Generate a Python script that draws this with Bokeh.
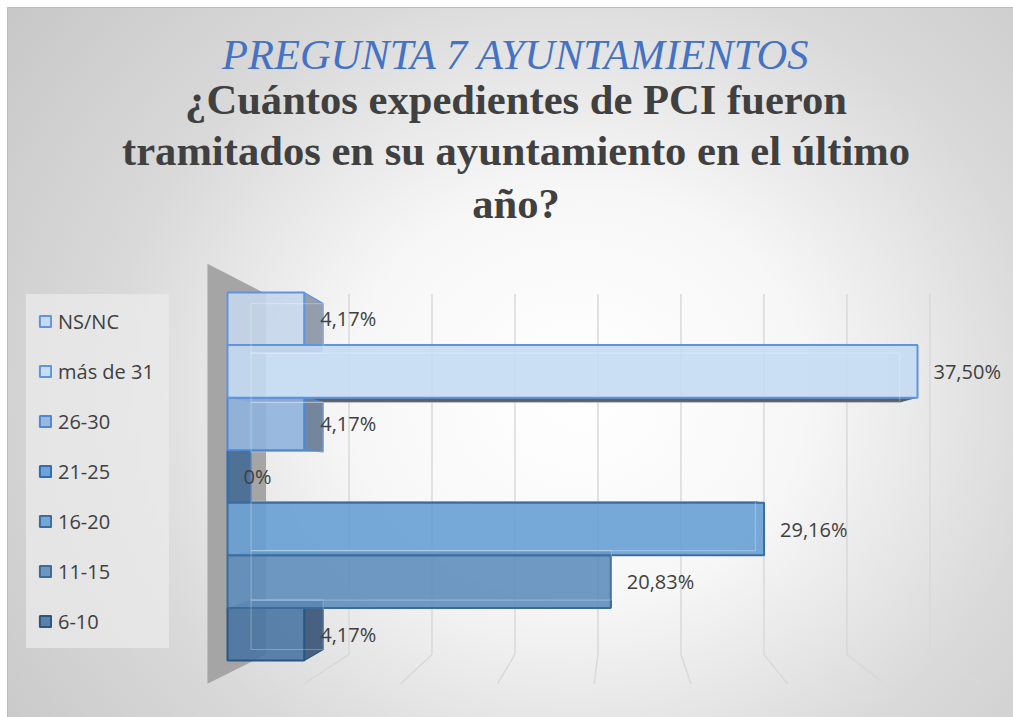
import numpy as np
from bokeh.plotting import figure
from bokeh.models import Range1d, Title, Legend, LegendItem, ColumnDataSource
from bokeh.embed import file_html
from bokeh.resources import INLINE
from bokeh.core.properties import value

# ---------------- data ----------------
categories = ["6-10", "11-15", "16-20", "21-25", "26-30", "más de 31", "NS/NC"]
percentages = [4.17, 20.83, 29.16, 0.0, 4.17, 37.50, 4.17]
labels = ["4,17%", "20,83%", "29,16%", "0%", "4,17%", "37,50%", "4,17%"]
grid_values = [5, 10, 15, 20, 25, 30, 35, 40]

title_text = "PREGUNTA 7 AYUNTAMIENTOS"
subtitle_lines = ["¿Cuántos expedientes de PCI fueron",
                  "tramitados en su ayuntamiento en el último",
                  "año?"]

# ---------------- styles ----------------
front_colors = ["#4a75a2", "#5f8dbb", "#68a0d4", "#5f9bd7", "#8fb2dd", "#c4daf3", "#c6d6eb"]
edge_colors = ["#2c5580", "#3d6a99", "#3d6ca0", "#2f6db3", "#4f88d4", "#5f95dd", "#5f95dd"]
side_colors = ["#3f5a7a", "#4d6f96", "#55799f", "#4b6e95", "#6c7f98", "#5a6068", "#8d98a6"]
cap_colors = ["#3f5a7a", "#4d6f96", "#3d5f85", "#4b6e95", "#6c7f98", "#5a6068", "#8d98a6"]
TEXT = "#404040"

# 3D projection (Excel-like perspective) in data units
VC, YC = 21.36, 2.98            # vanishing centre
S_NEAR, S_FRONT, S_BACK, S_WALL = 1.051, 1.0, 0.94, 0.902
Y_LO, Y_HI = -0.75, 6.85        # category-axis extent


def proj(x, y, s):
    x = np.asarray(x, dtype=float)
    y = np.asarray(y, dtype=float)
    return VC + s * (x - VC), YC + s * (y - YC)


W, H = 1013, 717
TOP = 248
LEFT = 18
X0 = 227 - LEFT   # frame pixel of value 0 on the bar front plane
p = figure(width=W, height=H, output_backend="svg", toolbar_location=None,
           title=None, x_axis_type=None, y_axis_type=None,
           x_range=Range1d(-X0 / 18.4, (W - LEFT - X0) / 18.4),
           y_range=Range1d(-0.5 - (H - TOP - 412) / 52.57, -0.5 + 412 / 52.57),
           min_border_left=LEFT, min_border_right=0, min_border_bottom=0,
           min_border_top=TOP)
p.grid.visible = False
p.outline_line_color = None
p.background_fill_color = None
p.border_fill_color = None
p.styles = {"background":
            "linear-gradient(#ffffff, #ffffff) 0 0 / 100% 7px no-repeat, "
            "linear-gradient(#ffffff, #ffffff) 0 0 / 7px 100% no-repeat, "
            "linear-gradient(#bdbdbd, #bdbdbd) 7px 7px / 100% 1px no-repeat, "
            "linear-gradient(#bdbdbd, #bdbdbd) 7px 7px / 1px 100% no-repeat, "
            "radial-gradient(ellipse 75% 95% at 57% 55%, #ffffff 0%, "
            "#f7f7f7 30%, #d9d9d9 62%, #c4c4c4 100%)"}

# titles (last added is top-most); a tiny spacer keeps them clear of the chart
p.add_layout(Title(text=" ", text_font_size="1px", standoff=17), "above")
for line, so in reversed(list(zip(subtitle_lines, [0, 4, 4]))):
    p.add_layout(Title(text=line, align="center", text_font="Liberation Serif",
                       text_font_size="42.6px", text_font_style="bold",
                       text_color=TEXT, standoff=so), "above")
p.add_layout(Title(text=title_text, align="center", text_font="Liberation Serif",
                   text_font_size="42.5px", text_font_style="italic",
                   text_color="#4472c4", standoff=-8), "above")

v = np.array(percentages)
idx = np.arange(len(categories), dtype=float)
ybot, ytop = idx - 0.5, idx + 0.5
zero = np.zeros_like(v)

# side wall (value = 0 plane)
wx1, wy1 = proj(0, Y_HI, S_NEAR)
wx2, wy2 = proj(0, Y_HI, S_WALL)
wx3, wy3 = proj(0, Y_LO, S_WALL)
wx4, wy4 = proj(0, Y_LO, S_NEAR)
p.patch([wx1, wx2, wx3, wx4], [wy1, wy2, wy3, wy4], fill_color="#a5a5a5",
        line_color=None)

# gridlines on back wall and floor
g = np.array(grid_values, dtype=float)
gx_b, gy_lo = proj(g, Y_LO, S_WALL)
_, gy_hi = proj(g, Y_HI, S_WALL)
gx_f, gy_f = proj(g, Y_LO, S_NEAR)
p.segment(gx_b, gy_lo, gx_b, gy_hi, line_color="#d9d9d9", line_width=1.5)
p.segment(gx_b, gy_lo, gx_f, gy_f, line_color="#d9d9d9", line_width=1.5)

# bottom faces (bars above the centre) / top faces (bars below)
cap_y = np.where(idx > YC, ybot, ytop)
cx0f, cyf = proj(zero, cap_y, S_FRONT)
cx1f, _ = proj(v, cap_y, S_FRONT)
cx0b, cyb = proj(zero, cap_y, S_BACK)
cx1b, _ = proj(v, cap_y, S_BACK)
cap_src = ColumnDataSource(dict(
    xs=[[a, b, c, d] for a, b, c, d in zip(cx0f, cx1f, cx1b, cx0b)],
    ys=[[a, a, b, b] for a, b in zip(cyf, cyb)],
    color=cap_colors))
p.patches("xs", "ys", source=cap_src, fill_color="color", line_color=None)

# right side faces (visible only where back edge lies right of front edge)
fx, fyb = proj(v, ybot, S_FRONT)
_, fyt = proj(v, ytop, S_FRONT)
bx, byb = proj(v, ybot, S_BACK)
_, byt = proj(v, ytop, S_BACK)
vis = bx > fx
side_src = ColumnDataSource(dict(
    xs=[[a, b, b, a] for a, b in zip(fx[vis], bx[vis])],
    ys=[[a, b, c, d] for a, b, c, d in zip(fyt[vis], byt[vis], byb[vis], fyb[vis])],
    color=[c for c, m in zip(side_colors, vis) if m],
    edge=[c for c, m in zip(edge_colors, vis) if m]))
p.patches("xs", "ys", source=side_src, fill_color="color", fill_alpha=0.95,
          line_color="edge", line_width=1.2)

# front faces (slightly translucent, as in the 3-D original)
src = ColumnDataSource(dict(y=idx, right=v, cat=categories, fill=front_colors,
                            edge=edge_colors, lab=labels))
front = p.hbar(y="y", left=0, right="right", height=1.0, source=src,
               fill_color="fill", fill_alpha=0.9, line_color="edge", line_width=2)

# back-face edges seen through the translucent bars
bl, _ = proj(zero, ybot, S_BACK)
p.quad(left=bl, right=bx, bottom=byb, top=byt, fill_color=None,
       line_color="#ffffff", line_alpha=0.25, line_width=1.2)

# value labels
p.text(x="right", y="y", text="lab", source=src, x_offset=16,
       text_align="left", text_baseline="middle",
       text_font=value("Open Sans"), text_font_size="20px", text_color=TEXT)

# legend (top-most category first)
items = [LegendItem(label=categories[i], renderers=[front], index=i)
         for i in reversed(range(len(categories)))]
legend = Legend(items=items, location=(26 - LEFT, 69), glyph_width=14, glyph_height=14,
                label_height=30, label_width=99, label_standoff=6, spacing=20,
                padding=11, margin=0,
                label_text_font="Open Sans", label_text_font_size="20px",
                label_text_color=TEXT, border_line_color="#e4e4e4",
                border_line_width=1, border_line_alpha=0.6,
                background_fill_color="#ebebeb", background_fill_alpha=0.75)
p.add_layout(legend)

open("out.html", "w").write(file_html(p, INLINE))
